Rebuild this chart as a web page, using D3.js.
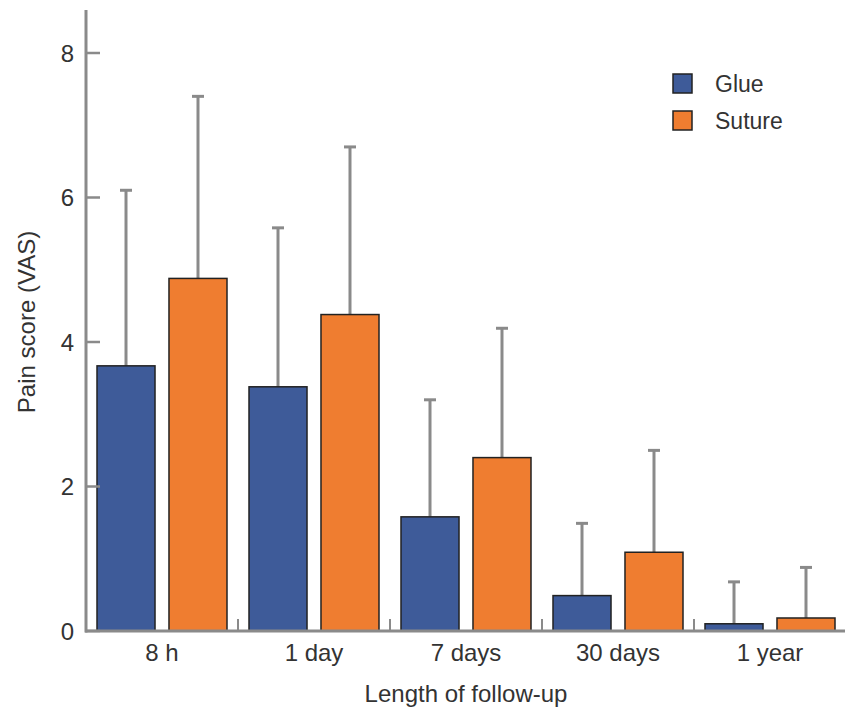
<!DOCTYPE html>
<html>
<head>
<meta charset="utf-8">
<script src="https://cdn.jsdelivr.net/npm/d3@7"></script>
<style>
  body { margin: 0; background: #fff; }
  text { font-family: "Liberation Sans", Arial, sans-serif; fill: #333; }
</style>
</head>
<body>
<div class="stage"></div>
<script>
// data
var categories = ["8 h", "1 day", "7 days", "30 days", "1 year"];
var series = ["Glue", "Suture"];
var glueMean = [3.67, 3.38, 1.58, 0.49, 0.1];
var glueUpper = [6.1, 5.58, 3.2, 1.49, 0.68];
var sutureMean = [4.88, 4.38, 2.4, 1.09, 0.18];
var sutureUpper = [7.4, 6.7, 4.19, 2.5, 0.88];
var yTicks = [0, 2, 4, 6, 8];

var colors = {Glue: "#3e5b99", Suture: "#ef7d30"};
var axisGrey = "#8a8a8a";

var W = 845, H = 715;
var svg = d3.select(".stage").append("svg")
  .attr("width", W)
  .attr("height", H);

var x = d3.scaleBand()
  .domain(categories)
  .range([86, 846]);

var inner = d3.scaleBand()
  .domain(series)
  .range([11, x.bandwidth() - 11])
  .paddingInner(0.194);

var y = d3.scaleLinear()
  .domain([0, 8])
  .range([631, 53]);

var rows = categories.map(function(c, i) {
  return [
    {cat: c, s: "Glue", v: glueMean[i], up: glueUpper[i]},
    {cat: c, s: "Suture", v: sutureMean[i], up: sutureUpper[i]}
  ];
});

// error bars (drawn first so bars sit on top)
var groups = svg.selectAll(".grp")
  .data(rows)
  .enter().append("g")
  .attr("class", "grp")
  .attr("transform", function(d) { return "translate(" + x(d[0].cat) + ",0)"; });

var errs = groups.selectAll(".err")
  .data(function(d) { return d; })
  .enter().append("g")
  .attr("class", "err");

errs.append("line")
  .attr("x1", function(d) { return inner(d.s) + inner.bandwidth() / 2; })
  .attr("x2", function(d) { return inner(d.s) + inner.bandwidth() / 2; })
  .attr("y1", function(d) { return y(d.v); })
  .attr("y2", function(d) { return y(d.up); })
  .attr("stroke", axisGrey)
  .attr("stroke-width", 3);

errs.append("line")
  .attr("x1", function(d) { return inner(d.s) + inner.bandwidth() / 2 - 6; })
  .attr("x2", function(d) { return inner(d.s) + inner.bandwidth() / 2 + 6; })
  .attr("y1", function(d) { return y(d.up); })
  .attr("y2", function(d) { return y(d.up); })
  .attr("stroke", axisGrey)
  .attr("stroke-width", 3);

groups.selectAll(".bar")
  .data(function(d) { return d; })
  .enter().append("rect")
  .attr("class", "bar")
  .attr("x", function(d) { return inner(d.s); })
  .attr("width", inner.bandwidth())
  .attr("y", function(d) { return y(d.v); })
  .attr("height", function(d) { return y(0) - y(d.v); })
  .attr("fill", function(d) { return colors[d.s]; })
  .attr("stroke", "#222")
  .attr("stroke-width", 1.5);

// y axis
svg.append("line")
  .attr("x1", 86).attr("x2", 86)
  .attr("y1", 10).attr("y2", y(0) + 1.5)
  .attr("stroke", axisGrey).attr("stroke-width", 3);

var yt = svg.selectAll(".ytick")
  .data(yTicks)
  .enter().append("g")
  .attr("class", "ytick");
yt.append("line")
  .attr("x1", 86).attr("x2", 100)
  .attr("y1", function(d) { return y(d); })
  .attr("y2", function(d) { return y(d); })
  .attr("stroke", axisGrey).attr("stroke-width", 2.5);
yt.append("text")
  .attr("x", 74)
  .attr("y", function(d) { return y(d); })
  .attr("dy", "0.36em")
  .attr("text-anchor", "end")
  .attr("font-size", "24px")
  .text(function(d) { return d; });

// x axis
svg.append("line")
  .attr("x1", 85).attr("x2", 846)
  .attr("y1", y(0)).attr("y2", y(0))
  .attr("stroke", axisGrey).attr("stroke-width", 3);

svg.selectAll(".xsep")
  .data(categories)
  .enter().append("line")
  .attr("class", "xsep")
  .attr("x1", function(d) { return x(d) + x.bandwidth(); })
  .attr("x2", function(d) { return x(d) + x.bandwidth(); })
  .attr("y1", y(0))
  .attr("y2", y(0) - 12)
  .attr("stroke", axisGrey).attr("stroke-width", 2);

svg.selectAll(".xlab")
  .data(categories)
  .enter().append("text")
  .attr("class", "xlab")
  .attr("x", function(d) { return x(d) + x.bandwidth() / 2; })
  .attr("y", 661)
  .attr("text-anchor", "middle")
  .attr("font-size", "24px")
  .text(function(d) { return d; });

svg.append("text")
  .attr("x", 466)
  .attr("y", 702)
  .attr("text-anchor", "middle")
  .attr("font-size", "24px")
  .text("Length of follow-up");

svg.append("text")
  .attr("transform", "translate(35,322) rotate(-90)")
  .attr("text-anchor", "middle")
  .attr("font-size", "24px")
  .text("Pain score (VAS)");

// legend
var leg = svg.selectAll(".leg")
  .data(series)
  .enter().append("g")
  .attr("class", "leg")
  .attr("transform", function(d, i) { return "translate(673," + (74 + i * 37) + ")"; });
leg.append("rect")
  .attr("width", 19).attr("height", 19)
  .attr("fill", function(d) { return colors[d]; })
  .attr("stroke", "#222").attr("stroke-width", 1.5);
leg.append("text")
  .attr("x", 42).attr("y", 10)
  .attr("dy", "0.36em")
  .attr("font-size", "23px")
  .text(function(d) { return d; });
</script>
</body>
</html>
